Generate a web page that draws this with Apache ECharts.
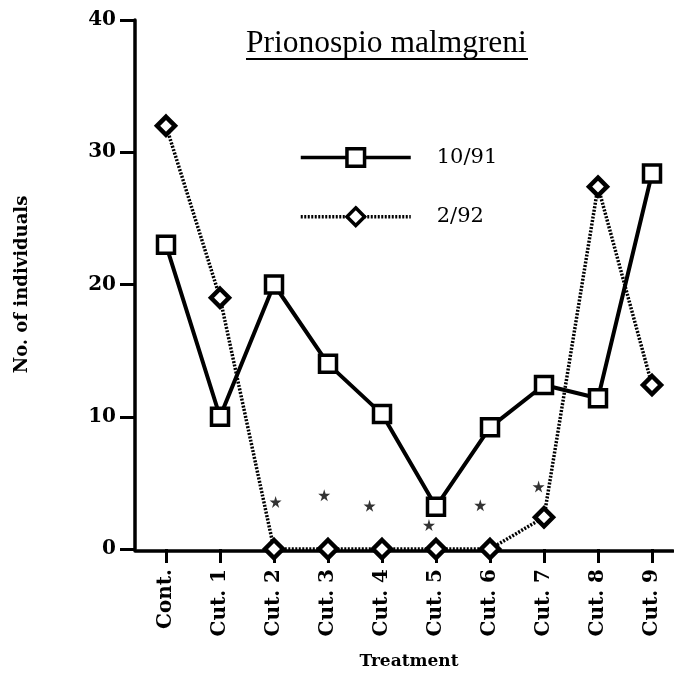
<!DOCTYPE html>
<html>
<head>
<meta charset="utf-8">
<script src="https://cdn.jsdelivr.net/npm/echarts@6/dist/echarts.min.js"></script>
<style>
  html, body { margin: 0; padding: 0; background: #fff; }
  #chart { width: 674px; height: 675px; }
</style>
</head>
<body>
<div id="chart"></div>
<script>
// Treatments along the x axis
const categories = ['Cont.', 'Cut. 1', 'Cut. 2', 'Cut. 3', 'Cut. 4', 'Cut. 5', 'Cut. 6', 'Cut. 7', 'Cut. 8', 'Cut. 9'];
// Number of individuals per sampling date
const oct91 = [23, 10, 20, 14, 10.2, 3.2, 9.2, 12.4, 11.4, 28.4];
const feb92 = [32, 19, 0, 0, 0, 0, 0, 2.4, 27.4, 12.4];
// Significance markers (x in treatment units, y in individuals)
const starX = [2.03, 2.93, 3.77, 4.87, 5.82, 6.9];
const starY = [3.7, 4.2, 3.4, 1.95, 3.45, 4.85];
const yTicks = { min: 0, max: 40, interval: 10 };

const serif = '"DejaVu Serif", serif';
const starPath = 'path://M50,0 L61,35 L98,35 L68,57 L79,91 L50,70 L21,91 L32,57 L2,35 L39,35 Z';

const chart = echarts.init(document.getElementById('chart'));
chart.setOption({
  backgroundColor: '#fff',
  animation: false,
  grid: [
    { left: 166, right: 22, top: 20, bottom: 124 },
    { left: 135, right: 1, top: 20, bottom: 124 }
  ],
  legend: {
    data: ['10/91', '2/92'],
    orient: 'vertical',
    left: 294,
    top: 142,
    itemWidth: 110,
    itemHeight: 22,
    itemGap: 38,
    itemStyle: { borderWidth: 3.5 },
    lineStyle: { width: 3.5 },
    textStyle: { fontFamily: serif, fontSize: 21, color: '#000', padding: [0, 0, 0, 21] }
  },
  xAxis: [
    {
      type: 'category',
      gridIndex: 0,
      data: categories,
      boundaryGap: false,
      axisLine: { show: false },
      axisTick: { show: true, length: 14, lineStyle: { color: '#000', width: 3 } },
      axisLabel: {
        rotate: 90, margin: 20, color: '#000',
        fontFamily: serif, fontWeight: 'bold', fontSize: 20
      },
      splitLine: { show: false },
      name: 'Treatment',
      nameLocation: 'middle',
      nameGap: 104,
      nameTextStyle: { fontFamily: serif, fontWeight: 'bold', fontSize: 17, color: '#000' }
    },
    {
      type: 'value',
      gridIndex: 1,
      min: -0.574,
      max: 9.389,
      axisLine: { show: true, lineStyle: { color: '#000', width: 3.5 } },
      axisTick: { show: false },
      axisLabel: { show: false },
      splitLine: { show: false }
    }
  ],
  yAxis: [
    {
      type: 'value',
      gridIndex: 0,
      min: yTicks.min,
      max: yTicks.max,
      interval: yTicks.interval,
      offset: 31,
      axisLine: { show: true, lineStyle: { color: '#000', width: 3.5 } },
      axisTick: { show: true, length: 15, lineStyle: { color: '#000', width: 3 } },
      axisLabel: { margin: 19, color: '#000', fontFamily: serif, fontWeight: 'bold', fontSize: 20 },
      splitLine: { show: false },
      name: 'No. of individuals',
      nameLocation: 'middle',
      nameGap: 104,
      nameTextStyle: { fontFamily: serif, fontWeight: 'bold', fontSize: 18, color: '#000' }
    },
    {
      type: 'value',
      gridIndex: 1,
      min: yTicks.min,
      max: yTicks.max,
      show: false
    }
  ],
  series: [
    {
      name: '2/92',
      type: 'line',
      xAxisIndex: 0,
      yAxisIndex: 0,
      data: feb92,
      symbol: 'diamond',
      symbolSize: 18,
      itemStyle: { color: '#fff', borderColor: '#000', borderWidth: 4.5 },
      lineStyle: { color: '#000', width: 3.5, type: [2, 1.5] },
      z: 3
    },
    {
      name: '10/91',
      type: 'line',
      xAxisIndex: 0,
      yAxisIndex: 0,
      data: oct91,
      symbol: 'rect',
      symbolSize: 17,
      itemStyle: { color: '#fff', borderColor: '#000', borderWidth: 3.5 },
      lineStyle: { color: '#000', width: 4 },
      z: 4
    },
    {
      name: 'significance',
      type: 'scatter',
      xAxisIndex: 1,
      yAxisIndex: 1,
      data: starX.map((x, i) => [x, starY[i]]),
      symbol: starPath,
      symbolSize: 12,
      itemStyle: { color: '#000' },
      z: 2
    }
  ],
  graphic: [
    {
      type: 'text',
      left: 246,
      top: 28,
      style: { text: 'Prionospio malmgreni', font: '31.5px "Liberation Serif"', fill: '#000' }
    },
    {
      type: 'rect',
      shape: { x: 246, y: 58, width: 282, height: 2 },
      style: { fill: '#000' }
    }
  ]
});
</script>
</body>
</html>
